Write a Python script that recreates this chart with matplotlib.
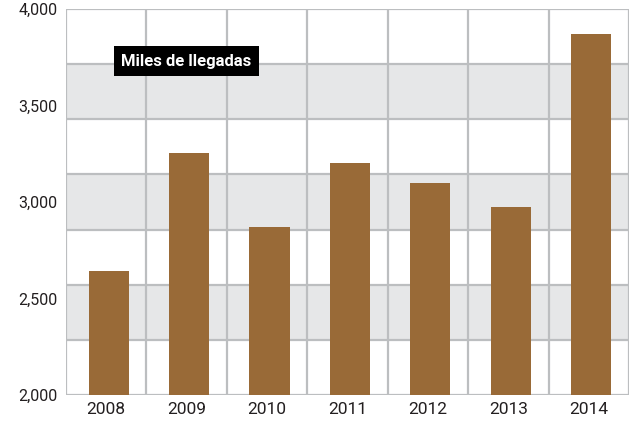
import matplotlib
matplotlib.use("Agg")
import matplotlib.pyplot as plt
import numpy as np

years = ["2008", "2009", "2010", "2011", "2012", "2013", "2014"]
values = [2642, 3254, 2870, 3202, 3098, 2974, 3870]
yticks = [2000, 2500, 3000, 3500, 4000]
yticklabels = ["2,000", "2,500", "3,000", "3,500", "4,000"]

plt.rcParams['font.family'] = ['Roboto', 'DejaVu Sans']

fig = plt.figure(figsize=(6.36, 4.24), dpi=100)
ax = fig.add_axes([66/636, (424-395)/424, (629-66)/636, (395-9)/424])

ymin, ymax = 2000, 4000
nb = 7
step = (ymax - ymin) / nb
grid_c = "#bcbec0"
for i in range(nb):
    top = ymax - i * step
    if i % 2 == 1:
        ax.axhspan(top - step, top, color="#e6e7e8", zorder=0, lw=0)
for i in range(nb + 1):
    ax.axhline(ymax - i * step, color=grid_c, lw=1.6, zorder=1)

x = np.arange(len(years))
for b in np.arange(-0.5, len(years), 1.0):
    ax.axvline(b, color=grid_c, lw=1.6, zorder=1)

ax.bar(x + 0.03, [v - ymin for v in values], bottom=ymin, width=0.5, color="#996a37", zorder=2)

ax.set_xlim(-0.5, len(years) - 0.5)
ax.set_ylim(ymin, ymax)
ax.set_xticks(x)
ax.set_xticklabels(years, fontsize=12.5, color="#231f20")
ax.set_yticks(yticks)
ax.set_yticklabels(yticklabels, fontsize=11.5, color="#231f20")
ax.tick_params(length=0, pad=6)
ax.tick_params(axis='x', pad=5)
for s in ax.spines.values():
    s.set_visible(False)

ax.text(0.214, 0.865, "Miles de llegadas", transform=ax.transAxes, ha="center", va="center",
        color="white", fontsize=12, fontweight="bold",
        bbox=dict(boxstyle="square,pad=0.45", fc="black", ec="none"), zorder=5)

fig.savefig("out.png", dpi=100)
